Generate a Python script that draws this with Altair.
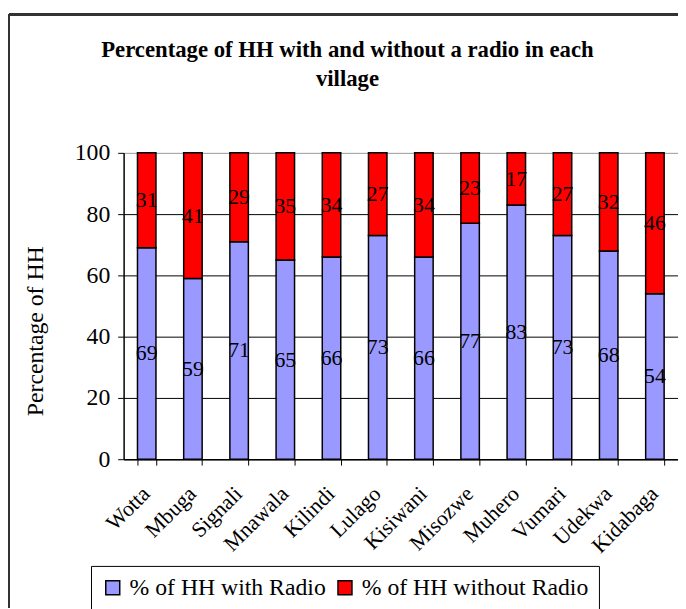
import altair as alt
import pandas as pd

villages = ["Wotta", "Mbuga", "Signali", "Mnawala", "Kilindi", "Lulago",
            "Kisiwani", "Misozwe", "Muhero", "Vumari", "Udekwa", "Kidabaga"]
with_radio = [69, 59, 71, 65, 66, 73, 66, 77, 83, 73, 68, 54]
without_radio = [31, 41, 29, 35, 34, 27, 34, 23, 17, 27, 32, 46]
series = ["% of HH with Radio", "% of HH without Radio"]
colors = ["#9999FF", "#FF0000"]

rows = []
for v, a, b in zip(villages, with_radio, without_radio):
    rows.append({"village": v, "series": series[0], "value": a, "ord": 0})
    rows.append({"village": v, "series": series[1], "value": b, "ord": 1})
df = pd.DataFrame(rows)

FONT = "Liberation Serif"

base = alt.Chart(df).transform_stack(
    stack="value", groupby=["village"], as_=["y0", "y1"],
    sort=[alt.SortField("ord", order="ascending")]
).transform_calculate(mid="(datum.y0 + datum.y1) / 2")

xenc = alt.X("village:N", sort=villages, title=None,
             scale=alt.Scale(paddingInner=0.6, paddingOuter=0.3),
             axis=alt.Axis(labelAngle=-45, labelFont=FONT, labelFontSize=22,
                           labelColor="black", tickBand="extent", tickSize=6,
                           tickColor="black", domainColor="black",
                           labelPadding=18, labelOffset=-8, grid=False, labelLimit=200))

bars = base.mark_bar(stroke="black", strokeWidth=1.5).encode(
    x=xenc,
    y=alt.Y("y0:Q", scale=alt.Scale(domain=[0, 100]),
            axis=alt.Axis(values=[0, 20, 40, 60, 80, 100], title="Percentage of HH",
                          titleFont=FONT, titleFontSize=24, titleFontWeight="normal",
                          titleColor="black", titleX=-89, titleY=180,
                          titleAngle=-90, titleAlign="center", titleBaseline="middle",
                          labelFont=FONT, labelFontSize=24, labelColor="black",
                          labelPadding=8, tickSize=6, tickColor="black",
                          domainColor="black", grid=True,
                          gridColor=alt.condition("datum.value == 100", alt.value("#999999"), alt.value("black")),
                          gridWidth=1)),
    y2="y1:Q",
    color=alt.Color("series:N", scale=alt.Scale(domain=series, range=colors),
                    legend=alt.Legend(title=None, orient="none", direction="horizontal",
                                      legendX=-33, legendY=418,
                                      labelFont=FONT, labelFontSize=24, labelColor="black",
                                      labelLimit=400,
                                      symbolType="square", symbolSize=200,
                                      symbolStrokeColor="black", symbolStrokeWidth=1.5,
                                      strokeColor="black", padding=10,
                                      columnPadding=7, labelOffset=5)),
    order=alt.Order("ord:Q"),
)

labels = base.mark_text(font=FONT, fontSize=22, color="black", baseline="middle").encode(
    x=alt.X("village:N", sort=villages),
    y=alt.Y("mid:Q"),
    text=alt.Text("value:Q"),
)

frame_top = alt.Chart(df).mark_rule(stroke="#333333", strokeWidth=2).encode(
    x=alt.value(-116), x2=alt.value(561), y=alt.value(-140)
)
frame_left = alt.Chart(df).mark_rule(stroke="#333333", strokeWidth=2).encode(
    x=alt.value(-116), y=alt.value(-140), y2=alt.value(460)
)

chart = alt.layer(frame_top, frame_left, bars, labels).properties(
    width=561, height=310,
    title=alt.TitleParams(
        text=["Percentage of HH with and without a radio in each", "village"],
        font=FONT, fontSize=23, fontWeight="bold", color="black",
        anchor="middle", frame="group", dx=-54, offset=0, dy=78, lineHeight=29),
    autosize=alt.AutoSizeParams(type="none"),
    padding={"left": 117, "top": 143, "right": 0, "bottom": 148},
).configure_view(stroke="transparent", strokeWidth=0).configure_axis(domainWidth=1.5)

chart.save("out.html", embed_options={"renderer": "svg", "actions": False})
